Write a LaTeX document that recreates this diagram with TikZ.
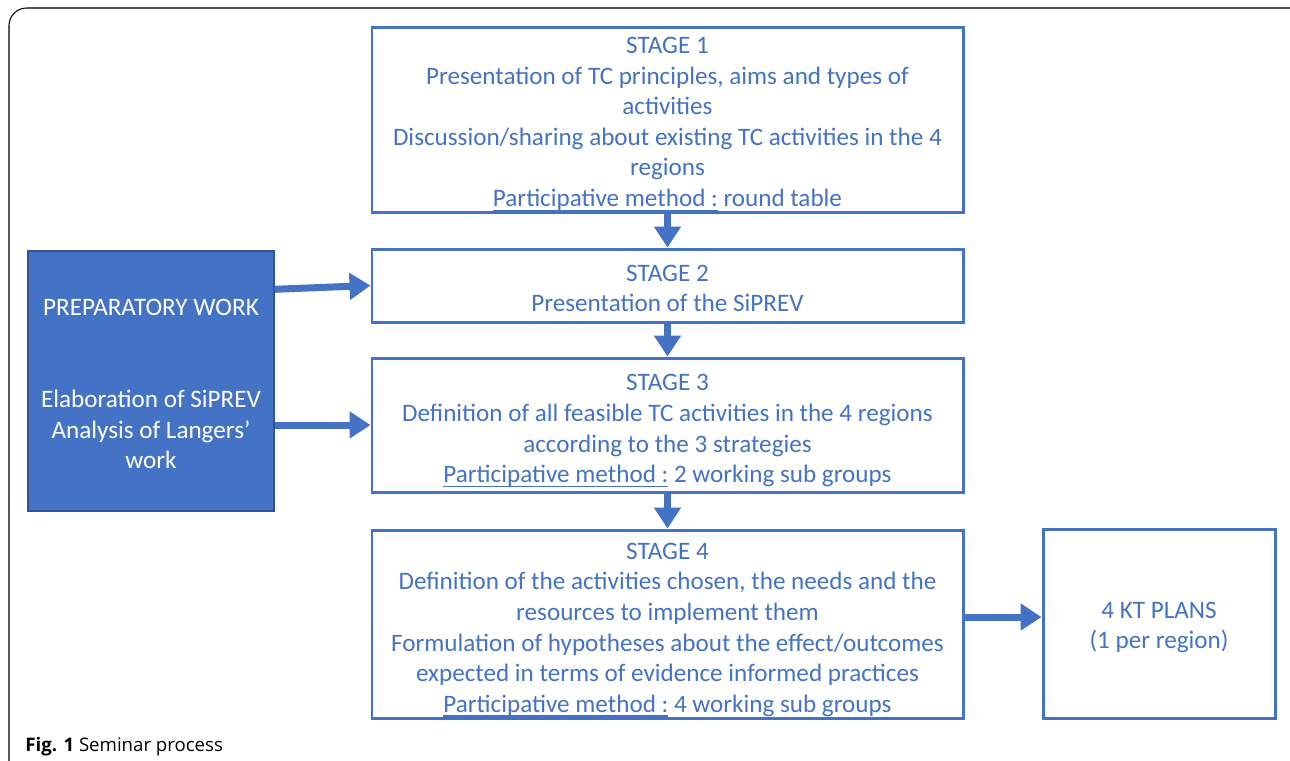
\documentclass[tikz,border=0pt]{standalone}
\usepackage{fontspec}
\setmainfont{Carlito}
\newfontfamily\capfont{Open Sans}
\usetikzlibrary{arrows.meta}
\definecolor{wordblue}{HTML}{4472C4}
\definecolor{prepborder}{HTML}{2F5597}
\newcommand{\boxstrut}[1]{\rule{0pt}{#1}}
\newsavebox{\methodbox}
\newcommand{\methodline}[1]{\sbox{\methodbox}{#1}\rlap{\rule[-2.6pt]{\wd\methodbox}{0.8pt}}\usebox{\methodbox}}

\begin{document}
\begin{tikzpicture}
[stagebox/.style={shape=rectangle,draw=wordblue,line width=1.7pt,text=wordblue,align=center,inner sep=0pt,font=\fontsize{14.3}{17.4}\selectfont},%
  prepbox/.style={shape=rectangle,fill=wordblue,draw=prepborder,line width=0.8pt,text=white,align=center,inner sep=0pt,font=\fontsize{14.3}{17.4}\selectfont},%
  arrowdecorate/.style={-{Triangle[length=0.42cm,width=0.52cm]},line width=0.14cm,draw=wordblue}]
\useasboundingbox (0,0) rectangle (25.8,-15.2);
% outer frame
\draw[line width=0.6pt,rounded corners=0.35cm] (0.18,-0.16) rectangle (26.4,-15.9);
% nodes or boxes
\node (stage1) at (13.35,-2.39) [stagebox,minimum width=11.82cm,minimum height=3.70cm]
  {\boxstrut{14.6pt}STAGE 1\\Presentation of TC principles, aims and types of\\activities\\Discussion/sharing about existing TC activities in the 4\\regions\\\methodline{Participative method :} round table};
\node (stage2) at (13.35,-5.71) [stagebox,minimum width=11.82cm,minimum height=1.46cm]
  {\boxstrut{12.5pt}STAGE 2\\Presentation of the SiPREV};
\node (stage3) at (13.35,-8.50) [stagebox,minimum width=11.82cm,minimum height=2.68cm]
  {\boxstrut{16pt}STAGE 3\\Definition of all feasible TC activities in the 4 regions\\according to the 3 strategies\\\methodline{Participative method :} 2 working sub groups};
\node (stage4) at (13.35,-12.48) [stagebox,minimum width=11.82cm,minimum height=3.76cm]
  {\boxstrut{16pt}STAGE 4\\Definition of the activities chosen, the needs and the\\resources to implement them\\Formulation of hypotheses about the effect/outcomes\\expected in terms of evidence informed practices\\\methodline{Participative method :} 4 working sub groups};
\node (ktplans) at (23.18,-12.47) [stagebox,minimum width=4.64cm,minimum height=3.78cm]
  {\boxstrut{14pt}4 KT PLANS\\(1 per region)};
\node (prep) at (3.02,-7.62) [prepbox,minimum width=4.92cm,minimum height=5.20cm]
  {\boxstrut{12.6pt}PREPARATORY WORK\\[35pt]Elaboration of SiPREV\\Analysis of Langers'\\work};
\node (caption) at (0.5,-14.93) [anchor=west,inner sep=0pt,font=\capfont\fontsize{10.6}{12}\selectfont]
  {\textbf{Fig. 1} Seminar process};
% edges or arrows
\draw[arrowdecorate] (stage1) -- (stage2);
\draw[arrowdecorate] (stage2) -- (stage3);
\draw[arrowdecorate] (stage3) -- (stage4);
\draw[arrowdecorate] ([yshift=-0.78cm]prep.north east) -- (stage2.west);
\draw[arrowdecorate] (prep.east |- stage3.west) -- (stage3.west);
\draw[arrowdecorate] ([yshift=0.14cm]stage4.east) -- ([yshift=0.14cm]stage4.east -| ktplans.west);
\end{tikzpicture}
\end{document}
